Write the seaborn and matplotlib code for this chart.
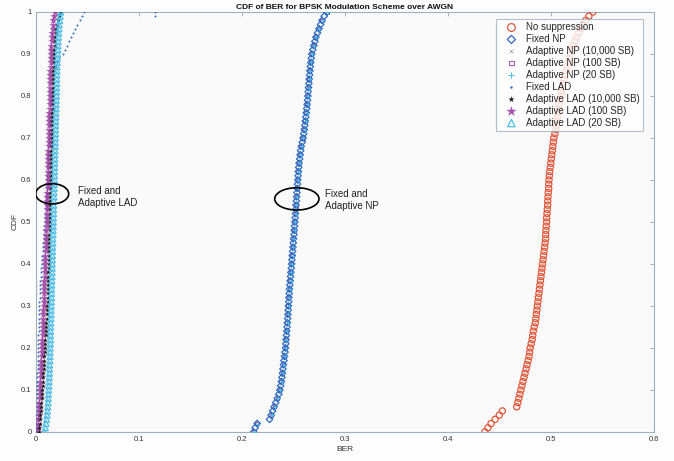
import numpy as np
import pandas as pd
import matplotlib
matplotlib.use("Agg")
import matplotlib.pyplot as plt
from matplotlib.patches import Ellipse
import seaborn as sns

sns.set_style("white")
plt.rcParams['font.family'] = ['Liberation Sans', 'DejaVu Sans']

# Fine CDF levels (0.00 ... 1.00, step 0.01)
CDF = [0.00, 0.01, 0.02, 0.03, 0.04, 0.05, 0.06, 0.07, 0.08, 0.09,
       0.10, 0.11, 0.12, 0.13, 0.14, 0.15, 0.16, 0.17, 0.18, 0.19,
       0.20, 0.21, 0.22, 0.23, 0.24, 0.25, 0.26, 0.27, 0.28, 0.29,
       0.30, 0.31, 0.32, 0.33, 0.34, 0.35, 0.36, 0.37, 0.38, 0.39,
       0.40, 0.41, 0.42, 0.43, 0.44, 0.45, 0.46, 0.47, 0.48, 0.49,
       0.50, 0.51, 0.52, 0.53, 0.54, 0.55, 0.56, 0.57, 0.58, 0.59,
       0.60, 0.61, 0.62, 0.63, 0.64, 0.65, 0.66, 0.67, 0.68, 0.69,
       0.70, 0.71, 0.72, 0.73, 0.74, 0.75, 0.76, 0.77, 0.78, 0.79,
       0.80, 0.81, 0.82, 0.83, 0.84, 0.85, 0.86, 0.87, 0.88, 0.89,
       0.90, 0.91, 0.92, 0.93, 0.94, 0.95, 0.96, 0.97, 0.98, 0.99, 1.00]

# Coarse CDF levels (step 0.02) for the adaptive NP series
CDF_COARSE = [0.00, 0.02, 0.04, 0.06, 0.08, 0.10, 0.12, 0.14, 0.16, 0.18,
              0.20, 0.22, 0.24, 0.26, 0.28, 0.30, 0.32, 0.34, 0.36, 0.38,
              0.40, 0.42, 0.44, 0.46, 0.48, 0.50, 0.52, 0.54, 0.56, 0.58,
              0.60, 0.62, 0.64, 0.66, 0.68, 0.70, 0.72, 0.74, 0.76, 0.78,
              0.80, 0.82, 0.84, 0.86, 0.88, 0.90, 0.92, 0.94, 0.96, 0.98, 1.00]

NO_SUPPRESSION = [0.436, 0.439, 0.442, 0.446, 0.450, 0.453, 0.467, 0.468, 0.469, 0.470,
                  0.471, 0.472, 0.473, 0.474, 0.475, 0.476, 0.477, 0.478, 0.479, 0.4795,
                  0.480, 0.481, 0.482, 0.4825, 0.483, 0.484, 0.485, 0.4855, 0.486, 0.4865,
                  0.487, 0.4875, 0.488, 0.4885, 0.489, 0.4895, 0.490, 0.4905, 0.491, 0.4915,
                  0.492, 0.4925, 0.493, 0.4935, 0.494, 0.4945, 0.495, 0.495, 0.4953, 0.4956,
                  0.496, 0.496, 0.4963, 0.4966, 0.497, 0.497, 0.4973, 0.4976, 0.498, 0.498,
                  0.4983, 0.4986, 0.499, 0.4995, 0.500, 0.5005, 0.501, 0.5015, 0.502, 0.5025,
                  0.503, 0.504, 0.505, 0.5055, 0.506, 0.5065, 0.507, 0.5075, 0.508, 0.509,
                  0.510, 0.5105, 0.511, 0.512, 0.513, 0.514, 0.515, 0.516, 0.517, 0.518,
                  0.519, 0.5205, 0.522, 0.5235, 0.525, 0.527, 0.529, 0.5315, 0.534, 0.537, 0.541]

FIXED_NP = [0.2115, 0.2130, 0.2150, 0.2270, 0.2285, 0.2300, 0.2315, 0.2330, 0.2345, 0.2360,
            0.2370, 0.2378, 0.2385, 0.2390, 0.2395, 0.2400, 0.2405, 0.2410, 0.2415, 0.2420,
            0.2425, 0.2428, 0.2430, 0.2434, 0.2437, 0.2440, 0.2443, 0.2446, 0.2448, 0.2451,
            0.2453, 0.2456, 0.2458, 0.2461, 0.2463, 0.2467, 0.2470, 0.2474, 0.2477, 0.2481,
            0.2484, 0.2487, 0.2490, 0.2494, 0.2497, 0.2500, 0.2503, 0.2507, 0.2510, 0.2513,
            0.2516, 0.2519, 0.2522, 0.2525, 0.2527, 0.2530, 0.2533, 0.2536, 0.2539, 0.2541,
            0.2544, 0.2547, 0.2550, 0.2553, 0.2557, 0.2562, 0.2567, 0.2572, 0.2578, 0.2587,
            0.2595, 0.2601, 0.2607, 0.2612, 0.2617, 0.2622, 0.2626, 0.2631, 0.2635, 0.2639,
            0.2642, 0.2645, 0.2648, 0.2652, 0.2655, 0.2659, 0.2662, 0.2666, 0.2670, 0.2675,
            0.2680, 0.2690, 0.2700, 0.2710, 0.2720, 0.2735, 0.2750, 0.2765, 0.2780, 0.2800, 0.2830]

ADAPTIVE_NP_10000 = [0.2122, 0.2152, 0.2292, 0.2322, 0.2352, 0.2372, 0.2387, 0.2397, 0.2407, 0.2417,
                     0.2427, 0.2432, 0.2439, 0.2445, 0.2450, 0.2455, 0.2460, 0.2465, 0.2472, 0.2479,
                     0.2486, 0.2492, 0.2499, 0.2505, 0.2512, 0.2518, 0.2524, 0.2529, 0.2535, 0.2541,
                     0.2546, 0.2552, 0.2559, 0.2569, 0.2580, 0.2597, 0.2609, 0.2619, 0.2628, 0.2637,
                     0.2644, 0.2650, 0.2657, 0.2664, 0.2672, 0.2682, 0.2702, 0.2722, 0.2752, 0.2782, 0.2832]

ADAPTIVE_NP_100 = [0.2118, 0.2148, 0.2288, 0.2318, 0.2348, 0.2368, 0.2383, 0.2393, 0.2403, 0.2413,
                   0.2423, 0.2428, 0.2435, 0.2441, 0.2446, 0.2451, 0.2456, 0.2461, 0.2468, 0.2475,
                   0.2482, 0.2488, 0.2495, 0.2501, 0.2508, 0.2514, 0.2520, 0.2525, 0.2531, 0.2537,
                   0.2542, 0.2548, 0.2555, 0.2565, 0.2576, 0.2593, 0.2605, 0.2615, 0.2624, 0.2633,
                   0.2640, 0.2646, 0.2653, 0.2660, 0.2668, 0.2678, 0.2698, 0.2718, 0.2748, 0.2778, 0.2828]

ADAPTIVE_NP_20 = [0.2124, 0.2154, 0.2294, 0.2324, 0.2354, 0.2374, 0.2389, 0.2399, 0.2409, 0.2419,
                  0.2429, 0.2434, 0.2441, 0.2447, 0.2452, 0.2457, 0.2462, 0.2467, 0.2474, 0.2481,
                  0.2488, 0.2494, 0.2501, 0.2507, 0.2514, 0.2520, 0.2526, 0.2531, 0.2537, 0.2543,
                  0.2548, 0.2554, 0.2561, 0.2571, 0.2582, 0.2599, 0.2611, 0.2621, 0.2630, 0.2639,
                  0.2646, 0.2652, 0.2659, 0.2666, 0.2674, 0.2684, 0.2704, 0.2724, 0.2754, 0.2784, 0.2834]

FIXED_LAD = [0.0003, 0.0004, 0.0005, 0.0006, 0.0007, 0.0008, 0.0009, 0.0010, 0.0011, 0.0012,
             0.0013, 0.0014, 0.0015, 0.0016, 0.0017, 0.0018, 0.0019, 0.0020, 0.0021, 0.0022,
             0.0023, 0.0024, 0.0025, 0.0026, 0.0027, 0.0028, 0.0029, 0.0030, 0.0031, 0.0032,
             0.0034, 0.0035, 0.0037, 0.0039, 0.0041, 0.0043, 0.0046, 0.0049, 0.0052, 0.0055,
             0.0058, 0.0061, 0.0064, 0.0067, 0.0070, 0.0073, 0.0076, 0.0079, 0.0082, 0.0085,
             0.0088, 0.0090, 0.0093, 0.0095, 0.0098, 0.0100, 0.0103, 0.0105, 0.0108, 0.0110,
             0.0112, 0.0114, 0.0116, 0.0118, 0.0120, 0.0122, 0.0124, 0.0126, 0.0128, 0.0130,
             0.0132, 0.0134, 0.0136, 0.0138, 0.0140, 0.0142, 0.0145, 0.0147, 0.0150, 0.0153,
             0.0156, 0.0159, 0.0163, 0.0167, 0.0172, 0.0178, 0.0185, 0.0194, 0.0205, 0.0230,
             0.0260, 0.0280, 0.0300, 0.0320, 0.0340, 0.0360, 0.0380, 0.0405, 0.0430, 0.0450, 0.0470]
FIXED_LAD_OUTLIER_BER = [0.116, 0.116]
FIXED_LAD_OUTLIER_CDF = [0.99, 1.00]

ADAPTIVE_LAD_10000 = [0.0030, 0.0034, 0.0038, 0.0042, 0.0045, 0.0049, 0.0052, 0.0055, 0.0058, 0.0061,
                      0.0064, 0.0067, 0.0069, 0.0072, 0.0074, 0.0077, 0.0079, 0.0082, 0.0084, 0.0087,
                      0.0089, 0.0092, 0.0094, 0.0097, 0.0099, 0.0102, 0.0104, 0.0107, 0.0109, 0.0112,
                      0.0114, 0.0116, 0.0117, 0.0119, 0.0120, 0.0121, 0.0122, 0.0123, 0.0124, 0.0125,
                      0.0126, 0.0127, 0.0128, 0.0129, 0.0130, 0.0131, 0.0132, 0.0133, 0.0134, 0.0135,
                      0.0136, 0.0137, 0.0138, 0.0139, 0.0140, 0.0141, 0.0142, 0.0143, 0.0144, 0.0145,
                      0.0146, 0.0147, 0.0148, 0.0149, 0.0150, 0.0151, 0.0152, 0.0153, 0.0154, 0.0155,
                      0.0156, 0.0157, 0.0158, 0.0159, 0.0160, 0.0161, 0.0162, 0.0163, 0.0164, 0.0165,
                      0.0166, 0.0167, 0.0168, 0.0169, 0.0170, 0.0171, 0.0172, 0.0173, 0.0175, 0.0176,
                      0.0178, 0.0180, 0.0183, 0.0186, 0.0190, 0.0195, 0.0200, 0.0207, 0.0215, 0.0226, 0.0240]

ADAPTIVE_LAD_100 = [0.0015, 0.0019, 0.0022, 0.0025, 0.0028, 0.0031, 0.0033, 0.0036, 0.0038, 0.0040,
                    0.0042, 0.0044, 0.0046, 0.0048, 0.0050, 0.0052, 0.0054, 0.0056, 0.0058, 0.0060,
                    0.0061, 0.0063, 0.0064, 0.0066, 0.0067, 0.0069, 0.0070, 0.0072, 0.0073, 0.0075,
                    0.0076, 0.0078, 0.0079, 0.0081, 0.0082, 0.0084, 0.0085, 0.0087, 0.0088, 0.0090,
                    0.0091, 0.0093, 0.0094, 0.0096, 0.0097, 0.0099, 0.0100, 0.0102, 0.0103, 0.0105,
                    0.0106, 0.0108, 0.0109, 0.0110, 0.0111, 0.0112, 0.0113, 0.0114, 0.0115, 0.0116,
                    0.0117, 0.0118, 0.0119, 0.0120, 0.0121, 0.0122, 0.0123, 0.0124, 0.0125, 0.0126,
                    0.0127, 0.0128, 0.0129, 0.0130, 0.0131, 0.0132, 0.0133, 0.0134, 0.0135, 0.0136,
                    0.0137, 0.0138, 0.0139, 0.0140, 0.0141, 0.0142, 0.0143, 0.0144, 0.0146, 0.0147,
                    0.0149, 0.0151, 0.0153, 0.0155, 0.0158, 0.0161, 0.0164, 0.0168, 0.0172, 0.0178, 0.0185]

ADAPTIVE_LAD_20 = [0.0085, 0.0093, 0.0100, 0.0105, 0.0110, 0.0114, 0.0117, 0.0120, 0.0122, 0.0124,
                   0.0126, 0.0128, 0.0130, 0.0132, 0.0133, 0.0135, 0.0136, 0.0138, 0.0139, 0.0140,
                   0.0141, 0.0142, 0.0143, 0.0144, 0.0145, 0.0146, 0.0147, 0.0148, 0.0149, 0.0150,
                   0.0151, 0.0152, 0.0153, 0.0154, 0.0155, 0.0156, 0.0157, 0.0158, 0.0159, 0.0160,
                   0.0161, 0.0162, 0.0163, 0.0164, 0.0165, 0.0166, 0.0167, 0.0168, 0.0169, 0.0170,
                   0.0171, 0.0172, 0.0173, 0.0174, 0.0175, 0.0176, 0.0177, 0.0178, 0.0179, 0.0180,
                   0.0181, 0.0182, 0.0183, 0.0184, 0.0185, 0.0186, 0.0187, 0.0188, 0.0189, 0.0190,
                   0.0191, 0.0192, 0.0193, 0.0194, 0.0195, 0.0196, 0.0197, 0.0198, 0.0199, 0.0200,
                   0.0201, 0.0202, 0.0203, 0.0204, 0.0205, 0.0206, 0.0207, 0.0208, 0.0210, 0.0211,
                   0.0213, 0.0215, 0.0217, 0.0219, 0.0221, 0.0223, 0.0226, 0.0229, 0.0233, 0.0238, 0.0243]

X_TICKS = [0, 0.1, 0.2, 0.3, 0.4, 0.5, 0.6]
X_TICK_LABELS = ["0", "0.1", "0.2", "0.3", "0.4", "0.5", "0.6"]
Y_TICKS = [0, 0.1, 0.2, 0.3, 0.4, 0.5, 0.6, 0.7, 0.8, 0.9, 1.0]
Y_TICK_LABELS = ["0", "0.1", "0.2", "0.3", "0.4", "0.5", "0.6", "0.7", "0.8", "0.9", "1"]

RED = "#e0573a"
BLUE = "#2f6cc0"
PURPLE = "#9a3b9f"
CYAN = "#4dbde6"

fig = plt.figure(figsize=(6.74, 4.61), dpi=100)
fig.patch.set_facecolor("#fdfdfd")
ax = fig.add_axes([0.053, 0.063, 0.917, 0.911])
ax.set_facecolor("#fafafb")

series = [
    ("No suppression", NO_SUPPRESSION, CDF, dict(marker="o", s=20, facecolor="none", edgecolor=RED, linewidth=0.9), 3),
    ("Fixed NP", FIXED_NP, CDF, dict(marker="D", s=11, facecolor="none", edgecolor=BLUE, linewidth=0.9), 3),
    ("Adaptive NP (10,000 SB)", ADAPTIVE_NP_10000, CDF_COARSE, dict(marker="x", s=5, color="#666666", linewidth=0.3), 2),
    ("Adaptive NP (100 SB)", ADAPTIVE_NP_100, CDF_COARSE, dict(marker="s", s=6, facecolor="none", edgecolor=PURPLE, linewidth=0.6), 2.2),
    ("Adaptive NP (20 SB)", ADAPTIVE_NP_20, CDF_COARSE, dict(marker="+", s=12, color=CYAN, linewidth=0.7), 3.5),
    ("Fixed LAD", FIXED_LAD, CDF, dict(marker=".", s=8, color=BLUE, linewidth=0), 3),
    ("Adaptive LAD (10,000 SB)", ADAPTIVE_LAD_10000, CDF, dict(marker="*", s=14, color="#1a1a1a", linewidth=0), 3.2),
    ("Adaptive LAD (100 SB)", ADAPTIVE_LAD_100, CDF, dict(marker="*", s=40, color=PURPLE, linewidth=0, alpha=0.85), 3.1),
    ("Adaptive LAD (20 SB)", ADAPTIVE_LAD_20, CDF, dict(marker="^", s=18, facecolor="none", edgecolor=CYAN, linewidth=0.9), 3.3),
]

for name, vals, levels, kw, z in series:
    df = pd.DataFrame({"BER": vals, "CDF": levels})
    sns.scatterplot(data=df, x="BER", y="CDF", ax=ax, label=name, zorder=z, **kw)

df_out = pd.DataFrame({"BER": FIXED_LAD_OUTLIER_BER, "CDF": FIXED_LAD_OUTLIER_CDF})
sns.scatterplot(data=df_out, x="BER", y="CDF", ax=ax, marker=".", s=8, color=BLUE, linewidth=0, zorder=3)

ax.set_xlim(0, 0.6)
ax.set_ylim(0, 1)
ax.set_xticks(X_TICKS)
ax.set_xticklabels(X_TICK_LABELS)
ax.set_yticks(Y_TICKS)
ax.set_yticklabels(Y_TICK_LABELS)
ax.tick_params(direction="in", length=3, width=0.6, colors="#8fa6b8", labelcolor="#333333",
               labelsize=5.5, top=True, right=True, pad=3)
for sp in ax.spines.values():
    sp.set_color("#9fb0bf")
    sp.set_linewidth(0.8)

ax.set_xlabel("BER", fontsize=6, color="#333333", labelpad=2)
ax.set_ylabel("CDF", fontsize=6, color="#333333", labelpad=2)
ax.set_title("CDF of BER for BPSK Modulation Scheme over AWGN", fontsize=6,
             fontweight="bold", pad=2.5, color="#111111")

# annotations
ax.add_patch(Ellipse((0.016, 0.567), 0.032, 0.048, fill=False, edgecolor="black", linewidth=1.2, zorder=5))
ax.text(0.041, 0.586, "Fixed and\nAdaptive LAD", fontsize=7, va="top", ha="left", color="#222222",
        linespacing=1.3)
ax.add_patch(Ellipse((0.2535, 0.555), 0.043, 0.053, fill=False, edgecolor="black", linewidth=1.2, zorder=5))
ax.text(0.2813, 0.579, "Fixed and\nAdaptive NP", fontsize=7, va="top", ha="left", color="#222222",
        linespacing=1.3)

leg = ax.legend(loc="upper right", bbox_to_anchor=(0.982, 0.983), fontsize=7, frameon=True,
                fancybox=False, borderpad=0.3, labelspacing=0.2, handletextpad=0.2,
                handlelength=2.6, borderaxespad=0, markerscale=1.25)
leg.get_frame().set_edgecolor("#9fb0bf")
leg.get_frame().set_linewidth(0.8)
leg.get_frame().set_facecolor("white")
leg.set_zorder(10)

fig.savefig("out.png", dpi=100, facecolor=fig.get_facecolor())
